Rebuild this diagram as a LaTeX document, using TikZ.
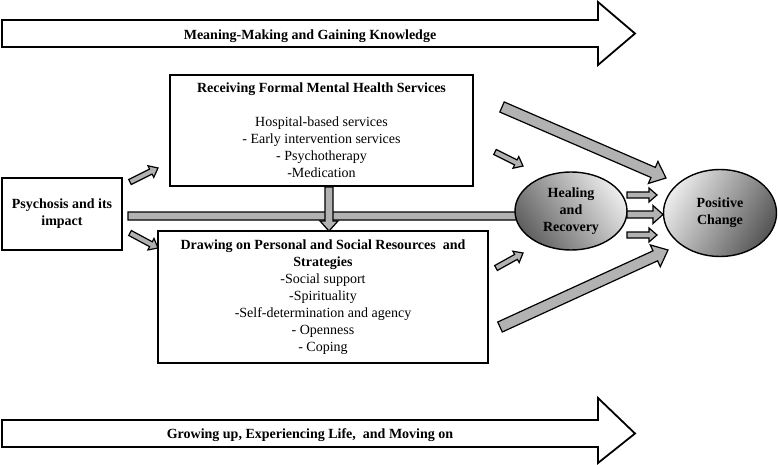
\documentclass[tikz,border=0pt]{standalone}
\usepackage{fontspec}
\setmainfont{Liberation Serif}
\usetikzlibrary{calc,shapes.geometric}
% #1 style, #2 from, #3 to, #4 shaft half width, #5 head half width, #6 head length
\newcommand\blockarrow[6][]{%
  \draw[blockarr,#1] ($(#2)!#4!90:(#3)$)
    -- ($($(#3)!#6!(#2)$)!#4!90:(#3)$)
    -- ($($(#3)!#6!(#2)$)!#5!90:(#3)$)
    -- (#3)
    -- ($($(#3)!#6!(#2)$)!#5!-90:(#3)$)
    -- ($($(#3)!#6!(#2)$)!#4!-90:(#3)$)
    -- ($(#2)!#4!-90:(#3)$) -- cycle;}
\begin{document}
\begin{tikzpicture}[x=1pt,y=-1pt,
  blockarr/.style={draw=black,fill=black!30,line width=1.2pt,line join=miter},
  bigarr/.style={draw=black,fill=white,line width=1.8pt,line join=miter},
  boxnode/.style={draw=black,line width=1.6pt,fill=white,inner sep=0pt,align=center,
     font=\fontsize{14}{17}\selectfont},
  ellnode/.style={ellipse,draw=black,line width=1.4pt,inner sep=0pt,align=center,
     font=\fontsize{14}{17}\selectfont\bfseries},
  lbl/.style={font=\fontsize{14}{17}\selectfont\bfseries}]
\useasboundingbox (0,0) rectangle (778,465);

% big process arrows
\draw[bigarr] (2,20) -- (598,20) -- (598,2) -- (635,33.5) -- (598,65) -- (598,47) -- (2,47) -- cycle;
\node[lbl] (meaning) at (310,36) {Meaning-Making and Gaining Knowledge};
\draw[bigarr] (2,420) -- (598,420) -- (598,398) -- (635,433.5) -- (598,463) -- (598,447) -- (2,447) -- cycle;
\node[lbl] (growing) at (310,435) {Growing up, Experiencing Life,\ \ and Moving on};

% boxes
\node[boxnode,minimum width=120pt,minimum height=72pt] (psy) at (62,214)
  {\bfseries Psychosis and its\\\bfseries impact};
\node[boxnode,minimum width=303pt,minimum height=111pt] (formal) at (321.5,130.5)
  {\bfseries Receiving Formal Mental Health Services\\[17pt]
   Hospital-based services\\- Early intervention services\\- Psychotherapy\\-Medication};
\node[boxnode,minimum width=330pt,minimum height=132pt] (drawing) at (323,297)
  {\bfseries Drawing on Personal and Social Resources\ \ and\\\bfseries Strategies\\
   -Social support\\-Spirituality\\-Self-determination and agency\\- Openness\\- Coping};

% coordinates for connectors
\coordinate (barL) at (128,216);
\coordinate (barR) at (560,216);
\coordinate (vA) at (329,187);
\coordinate (vB) at (329,231);
\coordinate (l1a) at (130,182); \coordinate (l1b) at (158,168);
\coordinate (l2a) at (130,233); \coordinate (l2b) at (158,248);
\coordinate (r1a) at (495,152); \coordinate (r1b) at (523,166);
\coordinate (r2a) at (496,268); \coordinate (r2b) at (523,253);
\coordinate (d1a) at (502,107); \coordinate (d1b) at (666,178);
\coordinate (d2a) at (500,327); \coordinate (d2b) at (668,250);
\coordinate (e1a) at (627,195); \coordinate (e1b) at (657,195);
\coordinate (e2a) at (627,214.5); \coordinate (e2b) at (663,214.5);
\coordinate (e3a) at (627,235); \coordinate (e3b) at (657,235);

% long bar under the healing ellipse
\blockarrow{barL}{barR}{4pt}{4pt}{0.5pt}
\blockarrow{vA}{vB}{4pt}{9pt}{10pt}
\blockarrow{l1a}{l1b}{2.8pt}{6.5pt}{8pt}
\blockarrow{l2a}{l2b}{2.8pt}{6.5pt}{8pt}
\blockarrow{r1a}{r1b}{2.8pt}{6.5pt}{8pt}
\blockarrow{r2a}{r2b}{2.8pt}{6.5pt}{8pt}
\blockarrow{d1a}{d1b}{5.5pt}{12pt}{14pt}
\blockarrow{d2a}{d2b}{5.5pt}{12pt}{14pt}

% ellipses
\node[ellnode,minimum width=112pt,minimum height=78pt,
  left color=black!62,right color=black!8,shading angle=125] (heal) at (571,211)
  {Healing\\and\\Recovery};
\node[ellnode,minimum width=113pt,minimum height=87pt,
  left color=black!8,right color=black!66,shading angle=60] (pos) at (720,213)
  {Positive\\Change};

\blockarrow{e1a}{e1b}{3pt}{7pt}{8pt}
\blockarrow{e2a}{e2b}{3.5pt}{9pt}{10pt}
\blockarrow{e3a}{e3b}{3pt}{7pt}{8pt}
\end{tikzpicture}
\end{document}
